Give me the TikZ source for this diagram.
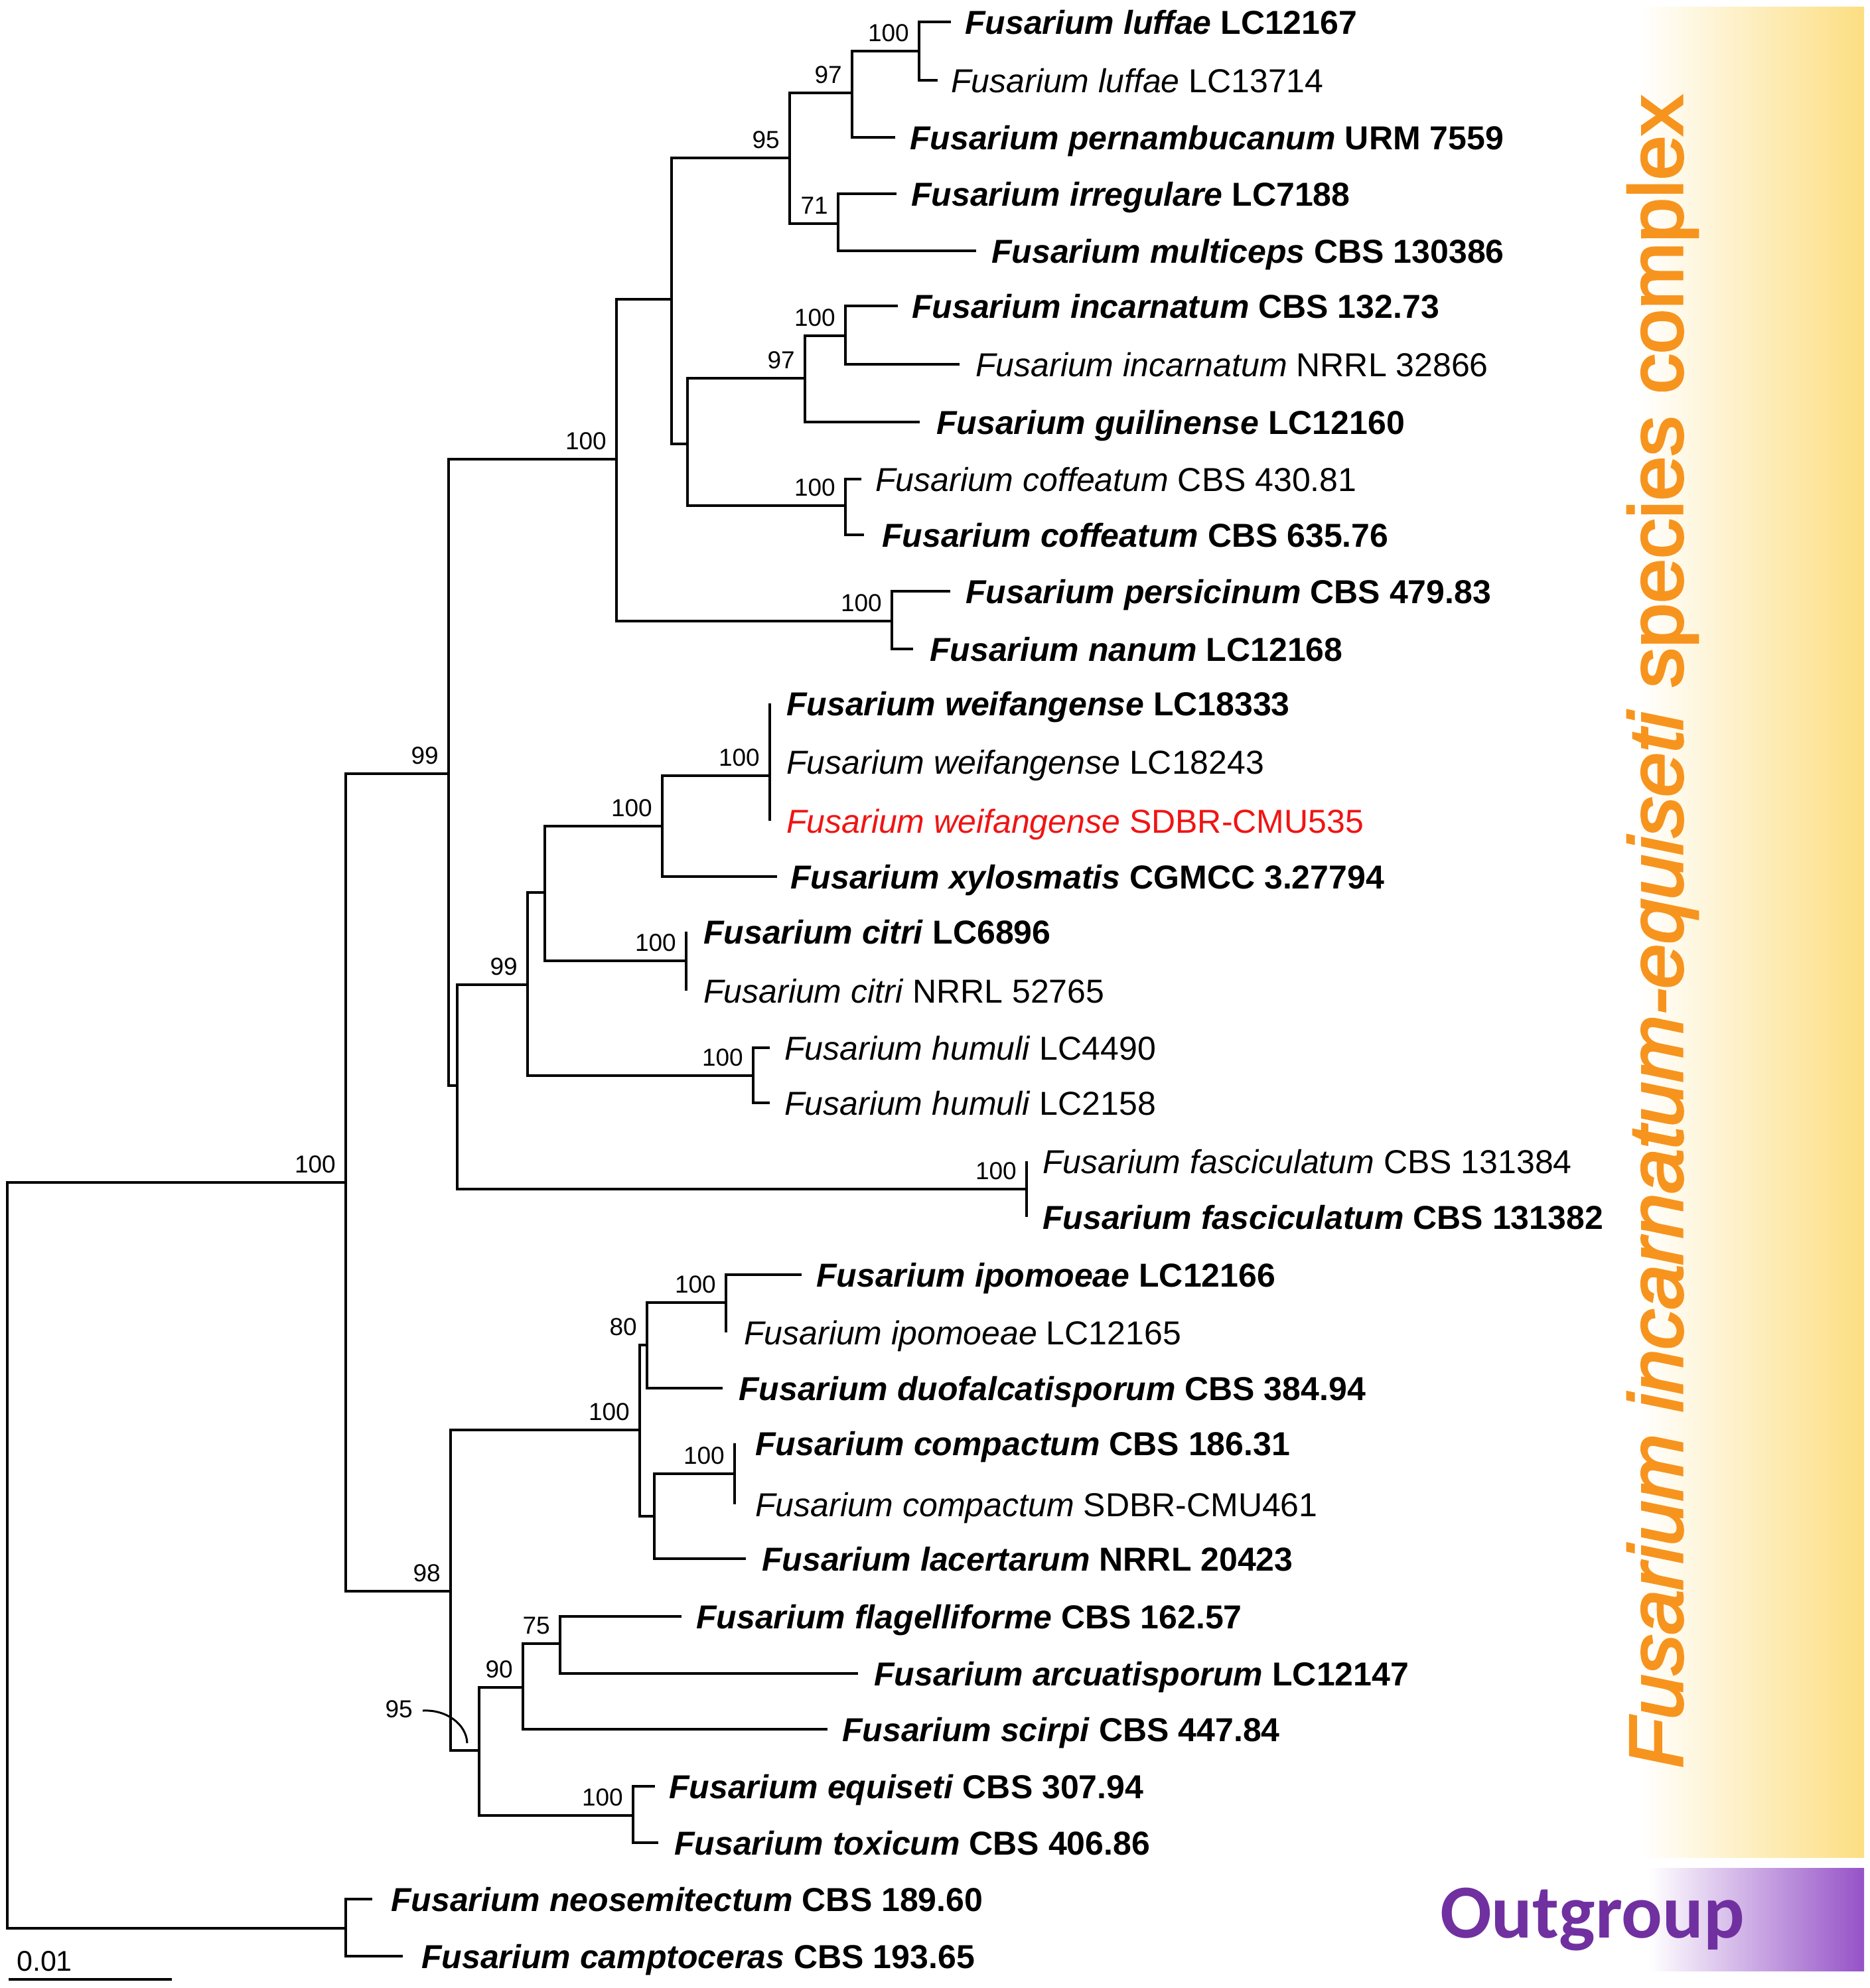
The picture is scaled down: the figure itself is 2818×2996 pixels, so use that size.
\documentclass[tikz,border=0pt]{standalone}
\usepackage{fontspec}
\setmainfont{Liberation Sans}
\newfontfamily\outfont{Carlito}
\newfontfamily\titlefont[FakeBold=3]{Liberation Sans}
\usepackage{graphicx}
\definecolor{orangeT}{RGB}{247,148,30}
\definecolor{barY}{RGB}{252,222,130}
\definecolor{barP}{RGB}{150,82,200}
\definecolor{outP}{RGB}{112,48,160}
\definecolor{redT}{RGB}{240,20,20}
\newcommand{\taxB}[2]{\textbf{\textit{#1} #2}}
\newcommand{\taxR}[2]{\textit{#1} #2}
\begin{document}
\begin{tikzpicture}[x=1pt,y=-1pt,
  tree/.style={line width=3.6pt, line join=miter},
  lab/.style={anchor=base west, inner sep=0pt, yshift=-18pt, font=\fontsize{50}{60}\selectfont},
  bs/.style={anchor=base east, inner sep=0pt, xshift=-15pt, yshift=15pt, font=\fontsize{37}{44}\selectfont}]
\fill[white] (0,0) rectangle (2818,2996);
\useasboundingbox (0,0) rectangle (2818,2996);
% side bars
\shade[left color=white, right color=barY] (2470,10) rectangle (2809,2799);
\shade[left color=white, right color=barP] (2485,2815) rectangle (2809,2970);
\node[rotate=90, anchor=base, inner sep=0pt, text=orangeT, font=\titlefont\fontsize{114}{130}\selectfont] (title) at (2535,1404)
  {\scalebox{1.06}[1]{\textit{Fusarium incarnatum-equiseti} species complex}};
\node[anchor=base west, inner sep=0pt, text=outP, font=\outfont\bfseries\fontsize{115}{130}\selectfont] (og) at (2170,2920) {Outgroup};
% internal nodes
\coordinate (R) at (11,2344);
\coordinate (I) at (521,1782);
\coordinate (O) at (521,2906);
\coordinate (A) at (676,1166);
\coordinate (B) at (929,692);
\coordinate (C) at (689,1636);
\coordinate (D) at (1012,451);
\coordinate (E) at (1344,936);
\coordinate (F) at (1190,238);
\coordinate (G) at (1036,669);
\coordinate (H) at (1284,140);
\coordinate (J) at (1263,337);
\coordinate (K) at (1385,77);
\coordinate (L) at (1213,570);
\coordinate (M) at (1274,762);
\coordinate (N) at (1274,506);
\coordinate (P) at (795,1484);
\coordinate (Q) at (1547,1792);
\coordinate (S) at (821,1345);
\coordinate (T) at (1135,1621);
\coordinate (U) at (998,1245);
\coordinate (V) at (1034,1448);
\coordinate (W) at (1160,1169);
\coordinate (W2) at (1160,1104);
\coordinate (X) at (679,2398);
\coordinate (Y) at (964,2155);
\coordinate (Z) at (722,2638);
\coordinate (AA) at (975,2027);
\coordinate (AB) at (986,2285);
\coordinate (AC) at (1094,1963);
\coordinate (AD) at (1107,2221);
\coordinate (AE) at (788,2543);
\coordinate (AF) at (954,2736);
\coordinate (AG) at (844,2477);
% tips
\coordinate (c1) at (1433,33);
\coordinate (c2) at (1413,121);
\coordinate (c3) at (1349,207);
\coordinate (c4) at (1351,292);
\coordinate (c5) at (1471,378);
\coordinate (c6) at (1353,461);
\coordinate (c7) at (1446,549);
\coordinate (c8) at (1386,636);
\coordinate (c9) at (1298,722);
\coordinate (c10) at (1302,806);
\coordinate (c11) at (1432,891);
\coordinate (c12) at (1376,978);
\coordinate (c13) at (1160,1060);
\coordinate (c14) at (1160,1148);
\coordinate (c15) at (1160,1237);
\coordinate (c16) at (1171,1321);
\coordinate (c17) at (1034,1404);
\coordinate (c18) at (1034,1493);
\coordinate (c19) at (1160,1579);
\coordinate (c20) at (1160,1662);
\coordinate (c21) at (1547,1750);
\coordinate (c22) at (1547,1834);
\coordinate (c23) at (1208,1921);
\coordinate (c24) at (1094,2008);
\coordinate (c25) at (1089,2092);
\coordinate (c26) at (1107,2175);
\coordinate (c27) at (1107,2267);
\coordinate (c28) at (1124,2349);
\coordinate (c29) at (1027,2436);
\coordinate (c30) at (1293,2522);
\coordinate (c31) at (1247,2606);
\coordinate (c32) at (987,2692);
\coordinate (c33) at (992,2777);
\coordinate (c34) at (561,2862);
\coordinate (c35) at (607,2948);
% branches
\draw[tree] (R) |- (I); \draw[tree] (R) |- (O);
\draw[tree] (I) |- (A); \draw[tree] (I) |- (X);
\draw[tree] (A) |- (B); \draw[tree] (A) |- (C);
\draw[tree] (B) |- (D); \draw[tree] (B) |- (E);
\draw[tree] (D) |- (F); \draw[tree] (D) |- (G);
\draw[tree] (F) |- (H); \draw[tree] (F) |- (J);
\draw[tree] (H) |- (K); \draw[tree] (H) |- (c3);
\draw[tree] (K) |- (c1); \draw[tree] (K) |- (c2);
\draw[tree] (J) |- (c4); \draw[tree] (J) |- (c5);
\draw[tree] (G) |- (L); \draw[tree] (G) |- (M);
\draw[tree] (L) |- (N); \draw[tree] (L) |- (c8);
\draw[tree] (N) |- (c6); \draw[tree] (N) |- (c7);
\draw[tree] (M) |- (c9); \draw[tree] (M) |- (c10);
\draw[tree] (E) |- (c11); \draw[tree] (E) |- (c12);
\draw[tree] (C) |- (P); \draw[tree] (C) |- (Q);
\draw[tree] (P) |- (S); \draw[tree] (P) |- (T);
\draw[tree] (S) |- (U); \draw[tree] (S) |- (V);
\draw[tree] (U) |- (W); \draw[tree] (U) |- (c16);
\draw[tree] (W) |- (W2); \draw[tree] (W) |- (c15);
\draw[tree] (W2) |- (c13); \draw[tree] (W2) |- (c14);
\draw[tree] (V) |- (c17); \draw[tree] (V) |- (c18);
\draw[tree] (T) |- (c19); \draw[tree] (T) |- (c20);
\draw[tree] (Q) |- (c21); \draw[tree] (Q) |- (c22);
\draw[tree] (X) |- (Y); \draw[tree] (X) |- (Z);
\draw[tree] (Y) |- (AA); \draw[tree] (Y) |- (AB);
\draw[tree] (AA) |- (AC); \draw[tree] (AA) |- (c25);
\draw[tree] (AC) |- (c23); \draw[tree] (AC) |- (c24);
\draw[tree] (AB) |- (AD); \draw[tree] (AB) |- (c28);
\draw[tree] (AD) |- (c26); \draw[tree] (AD) |- (c27);
\draw[tree] (Z) |- (AE); \draw[tree] (Z) |- (AF);
\draw[tree] (AE) |- (AG); \draw[tree] (AE) |- (c31);
\draw[tree] (AG) |- (c29); \draw[tree] (AG) |- (c30);
\draw[tree] (AF) |- (c32); \draw[tree] (AF) |- (c33);
\draw[tree] (O) |- (c34); \draw[tree] (O) |- (c35);
% bootstrap values
\node[bs] (bK) at (K) {100};
\node[bs] (bH) at (H) {97};
\node[bs] (bF) at (F) {95};
\node[bs] (bJ) at (J) {71};
\node[bs] (bN) at (N) {100};
\node[bs] (bL) at (L) {97};
\node[bs] (bM) at (M) {100};
\node[bs] (bE) at (E) {100};
\node[bs] (bB) at (B) {100};
\node[bs] (bA) at (A) {99};
\node[bs] (bW) at (W) {100};
\node[bs] (bU) at (U) {100};
\node[bs] (bV) at (V) {100};
\node[bs] (bP) at (P) {99};
\node[bs] (bT) at (T) {100};
\node[bs] (bQ) at (Q) {100};
\node[bs] (bI) at (I) {100};
\node[bs] (bAC) at (AC) {100};
\node[bs] (bAA) at (AA) {80};
\node[bs] (bY) at (Y) {100};
\node[bs] (bAD) at (AD) {100};
\node[bs] (bX) at (X) {98};
\node[bs] (bAG) at (AG) {75};
\node[bs] (bAE) at (AE) {90};
\node[bs] (bAF) at (AF) {100};
\node[anchor=base east, inner sep=0pt, font=\fontsize{37}{44}\selectfont] (bZ) at (622,2588) {95};
\coordinate (z95a) at (637,2578);
\coordinate (z95b) at (704,2627);
\draw[line width=3pt] (z95a) .. controls (672,2576) and (703,2598) .. (z95b);
% taxon labels
\node[lab] (t1) at (1454,33) {\taxB{Fusarium luffae}{LC12167}};
\node[lab] (t2) at (1433,121) {\taxR{Fusarium luffae}{LC13714}};
\node[lab] (t3) at (1371,207) {\taxB{Fusarium pernambucanum}{URM 7559}};
\node[lab] (t4) at (1373,292) {\taxB{Fusarium irregulare}{LC7188}};
\node[lab] (t5) at (1494,378) {\taxB{Fusarium multiceps}{CBS 130386}};
\node[lab] (t6) at (1374,461) {\taxB{Fusarium incarnatum}{CBS 132.73}};
\node[lab] (t7) at (1470,549) {\taxR{Fusarium incarnatum}{NRRL 32866}};
\node[lab] (t8) at (1411,636) {\taxB{Fusarium guilinense}{LC12160}};
\node[lab] (t9) at (1319,722) {\taxR{Fusarium coffeatum}{CBS 430.81}};
\node[lab] (t10) at (1329,806) {\taxB{Fusarium coffeatum}{CBS 635.76}};
\node[lab] (t11) at (1455,891) {\taxB{Fusarium persicinum}{CBS 479.83}};
\node[lab] (t12) at (1401,978) {\taxB{Fusarium nanum}{LC12168}};
\node[lab] (t13) at (1185,1060) {\taxB{Fusarium weifangense}{LC18333}};
\node[lab] (t14) at (1185,1148) {\taxR{Fusarium weifangense}{LC18243}};
\node[lab, text=redT] (t15) at (1185,1237) {\taxR{Fusarium weifangense}{SDBR-CMU535}};
\node[lab] (t16) at (1191,1321) {\taxB{Fusarium xylosmatis}{CGMCC 3.27794}};
\node[lab] (t17) at (1060,1404) {\taxB{Fusarium citri}{LC6896}};
\node[lab] (t18) at (1060,1493) {\taxR{Fusarium citri}{NRRL 52765}};
\node[lab] (t19) at (1182,1579) {\taxR{Fusarium humuli}{LC4490}};
\node[lab] (t20) at (1182,1662) {\taxR{Fusarium humuli}{LC2158}};
\node[lab] (t21) at (1571,1750) {\taxR{Fusarium fasciculatum}{CBS 131384}};
\node[lab] (t22) at (1571,1834) {\taxB{Fusarium fasciculatum}{CBS 131382}};
\node[lab] (t23) at (1230,1921) {\taxB{Fusarium ipomoeae}{LC12166}};
\node[lab] (t24) at (1121,2008) {\taxR{Fusarium ipomoeae}{LC12165}};
\node[lab] (t25) at (1113,2092) {\taxB{Fusarium duofalcatisporum}{CBS 384.94}};
\node[lab] (t26) at (1138,2175) {\taxB{Fusarium compactum}{CBS 186.31}};
\node[lab] (t27) at (1138,2267) {\taxR{Fusarium compactum}{SDBR-CMU461}};
\node[lab] (t28) at (1148,2349) {\taxB{Fusarium lacertarum}{NRRL 20423}};
\node[lab] (t29) at (1049,2436) {\taxB{Fusarium flagelliforme}{CBS 162.57}};
\node[lab] (t30) at (1317,2522) {\taxB{Fusarium arcuatisporum}{LC12147}};
\node[lab] (t31) at (1269,2606) {\taxB{Fusarium scirpi}{CBS 447.84}};
\node[lab] (t32) at (1008,2692) {\taxB{Fusarium equiseti}{CBS 307.94}};
\node[lab] (t33) at (1016,2777) {\taxB{Fusarium toxicum}{CBS 406.86}};
\node[lab] (t34) at (589,2862) {\taxB{Fusarium neosemitectum}{CBS 189.60}};
\node[lab] (t35) at (635,2948) {\taxB{Fusarium camptoceras}{CBS 193.65}};
% scale bar
\coordinate (sb1) at (13,2983);
\coordinate (sb2) at (259,2983);
\draw[line width=3.6pt] (sb1) -- (sb2);
\node[anchor=base west, inner sep=0pt, font=\fontsize{43}{50}\selectfont] (sbl) at (25,2970) {0.01};
\end{tikzpicture}
\end{document}
